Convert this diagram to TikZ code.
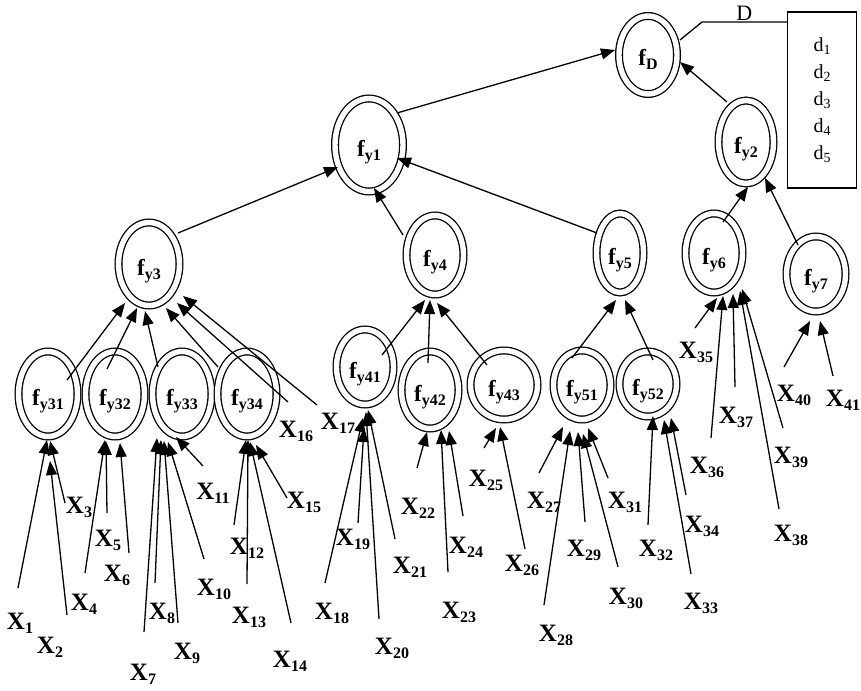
\documentclass[tikz,border=0pt]{standalone}
\usepackage{fontspec}
\setmainfont{Liberation Serif}
\usetikzlibrary{arrows.meta,shapes.geometric}
\newcommand\subx[1]{\raisebox{-4pt}{\fontsize{16}{16}\selectfont #1}}
\newcommand\subd[1]{\raisebox{-3pt}{\fontsize{14}{14}\selectfont #1}}
\begin{document}
\begin{tikzpicture}[x=1pt,y=-1pt,
fnode/.style={ellipse,draw,double,double distance=5.4pt,line width=1.3pt,inner sep=0pt,text height=26pt,text depth=4pt,font=\fontsize{23}{24}\selectfont\bfseries},
xlab/.style={inner sep=0pt,font=\fontsize{25}{26}\selectfont\bfseries},
arr/.style={line width=1.3pt,-{Triangle[length=14pt,width=11pt]}}]
\useasboundingbox (0,0) rectangle (861,690);
\foreach \nm/\px/\py/\w/\h/\fl in {fD/648/55/58/78/D,fy1/369/145/68/93/y1,fy2/746/142/55/83/y2,fy3/149/264/61/83/y3,fy4/435/255/57/79/y4,fy5/620/253/47/79/y5,fy6/714/253/57/79/y6,fy7/816/274/59/75/y7,fy31/48/394/59/85/y31,fy32/115/394/59/85/y32,fy33/182/394/59/85/y33,fy34/247/394/59/85/y34,fy41/365/367/57/75/y41,fy42/430/390/57/77/y42,fy43/504/385/67/69/y43,fy51/582/385/57/69/y51,fy52/648/384/57/65/y52}{\node[fnode,minimum width=\w pt,minimum height=\h pt](\nm) at (\px,\py){f\subx{\fl}};}
\foreach \na/\ax/\ay/\nb/\bx/\by in {fy31/19/14/fy3/-24/-39,fy32/-8/25/fy3/-12/-44,fy33/-24/27/fy3/-4/-47,fy34/-29/27/fy3/17/-44,fy3/29/31/fy1/-31/-22,fy4/-32/20/fy1/5/-43,fy5/-23/20/fy1/28/-13,fy1/28/32/fD/-33/5,fy2/-19/40/fD/32/-7,fy6/9/31/fy2/2/-45,fy7/-18/29/fy2/19/-36,fy41/17/12/fy4/-10/-45,fy42/-2/27/fy4/-5/-45,fy43/-17/20/fy4/2/-48,fy51/-10/27/fy5/-4/-47,fy52/5/24/fy5/5/-47}{\draw[arr]([xshift=\ax pt,yshift=\ay pt]\na.center)--([xshift=\bx pt,yshift=\by pt]\nb.center);}
\foreach \xn/\xlx/\xly/\xex/\xey/\xnode/\xsx/\xsy in {1/20/623/18/588/fy31/-1/-46,2/50/647/67/615/fy31/2/-67,3/79/507/65/503/fy31/2/-47,4/84/604/85/573/fy32/-10/-46,5/108/540/107/513/fy32/-9/-47,6/117/575/129/553/fy32/5/-49,7/143/674/144/632/fy33/-25/-44,8/162/613/155/583/fy33/-21/-46,9/187/653/178/623/fy33/-18/-47,10/214/589/204/559/fy33/-14/-48,11/213/493/203/466/fy33/-6/-43,12/247/548/234/525/fy34/-1/-46,13/249/617/247/584/fy34/1/-46,14/290/661/291/623/fy34/3/-48,15/304/502/287/498/fy34/9/-51,16/296/431/288/402/fy3/28/-39,17/338/423/317/405/fy3/34/-32,18/332/613/325/583/fy41/-2/-51,19/353/539/358/523/fy41/-1/-61,20/392/648/379/619/fy41/1/-45,21/410/567/395/539/fy41/3/-43,22/418/508/417/468/fy42/-3/-42,23/459/612/448/572/fy42/11/-40,24/466/547/463/516/fy42/19/-41,25/486/480/484/448/fy43/-8/-43,26/522/565/525/549/fy43/-4/-42,27/544/502/539/473/fy51/-19/-42,28/556/635/544/605/fy51/-12/-46,29/584/550/585/522/fy51/-4/-47,30/626/598/618/567/fy51/1/-49,31/625/502/608/478/fy51/6/-43,32/656/550/648/525/fy52/5/-32,33/701/603/691/574/fy52/16/-36,34/702/526/686/495/fy52/23/-34,35/696/352/695/328/fy6/3/-45,36/707/467/711/438/fy6/9/-43,37/736/417/735/387/fy6/19/-41,38/791/535/779/509/fy6/26/-38,39/791/457/783/428/fy6/28/-36,40/794/395/784/367/fy7/-6/-47,41/843/400/833/376/fy7/4/-47}{
\node[xlab](x\xn) at (\xlx,\xly){X\subx{\xn}};
\coordinate(e\xn) at (\xex,\xey);
\draw[arr](e\xn)--([xshift=\xsx pt,yshift=\xsy pt]\xnode.center);}
\node[draw,line width=1.3pt,minimum width=69pt,minimum height=176pt,align=left,font=\fontsize{20}{27}\selectfont](dbox) at (822,100){d\subd{1}\\d\subd{2}\\d\subd{3}\\d\subd{4}\\d\subd{5}};
\coordinate(dk) at (702,22);
\draw[line width=1.3pt]([xshift=32pt,yshift=15pt]fD.center)--(dk)--(dk-|dbox.west)node[midway,above,inner sep=1pt,font=\fontsize{22}{24}\selectfont](dlab){D};
\end{tikzpicture}
\end{document}
